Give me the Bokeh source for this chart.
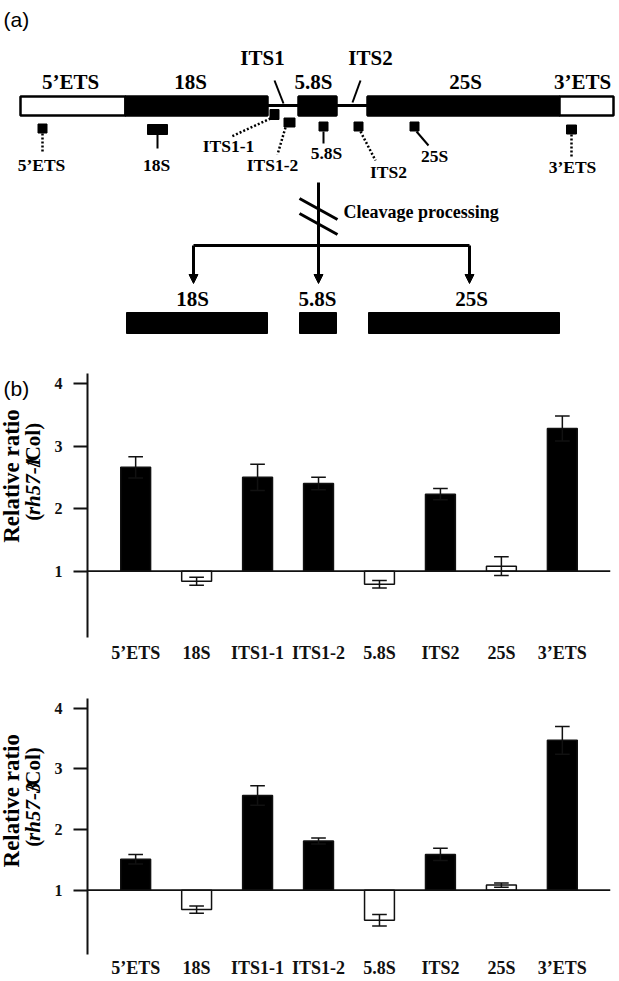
import math
from bokeh.plotting import figure
from bokeh.layouts import column, row
from bokeh.models import Range1d, FixedTicker, Span, Arrow, NormalHead
from bokeh.core.properties import value
from bokeh.embed import file_html
from bokeh.resources import INLINE

SERIF = value("Liberation Serif")
SANS = value("Liberation Sans")

# ---------------- data: schematic of the rDNA unit (a) ----------------
regions = ["5’ETS", "18S", "ITS1", "5.8S", "ITS2", "25S", "3’ETS"]
region_start = [20, 125, 267, 298, 336, 367, 559]
region_end = [125, 267, 298, 336, 367, 559, 613]
region_kind = ["open", "solid", "spacer", "solid", "spacer", "solid", "open"]
region_label_x = [70, 190, 262, 313, 370, 465, 582]
region_label_y = [81, 81, 57, 81, 57, 81, 81]

probe_names = ["5’ETS", "18S", "ITS1-1", "ITS1-2", "5.8S", "ITS2", "25S", "3’ETS"]
probe_x = [42, 157, 274, 289, 323, 358, 414, 571]
probe_y = [128, 129, 114, 122, 126, 126, 126, 129]
probe_w = [9, 20, 9, 11, 9, 9, 9, 10]
probe_h = [9, 10, 10, 9, 9, 9, 9, 9]
probe_link = ["dotted", "solid", "dotted", "dotted", "solid", "dotted", "solid", "dotted"]
link_x0 = [42, 157, 270, 285, 323, 360, 416, 571]
link_y0 = [133, 134, 118, 127, 131, 131, 131, 134]
link_x1 = [42, 157, 231, 277, 323, 375, 428, 571]
link_y1 = [153, 148, 136, 154, 143, 160, 145, 158]
probe_label_x = [41, 156, 228, 272, 326, 388, 434, 572]
probe_label_y = [164, 164, 145, 164, 152, 171, 155, 166]

products = ["18S", "5.8S", "25S"]
product_arrow_x = [193, 318, 469]

# ---------------- data: qRT-PCR ratios (b) ----------------
categories = ["5’ETS", "18S", "ITS1-1", "ITS1-2", "5.8S", "ITS2", "25S", "3’ETS"]
rh57_1_mean = [2.66, 0.84, 2.50, 2.40, 0.79, 2.23, 1.08, 3.28]
rh57_1_err = [0.17, 0.065, 0.21, 0.10, 0.06, 0.09, 0.15, 0.20]
rh57_3_mean = [1.51, 0.68, 2.56, 1.81, 0.505, 1.59, 1.085, 3.47]
rh57_3_err = [0.08, 0.06, 0.16, 0.05, 0.095, 0.10, 0.035, 0.23]
y_ticks = [1, 2, 3, 4]


def blank(w, h, xr, yr):
    p = figure(width=w, height=h, x_range=Range1d(*xr), y_range=Range1d(*yr),
               x_axis_type=None, y_axis_type=None, toolbar_location=None,
               output_backend="svg", min_border=0, outline_line_color=None)
    p.xgrid.visible = False
    p.ygrid.visible = False
    return p


# ---------------- panel (a) ----------------
pa = blank(619, 345, (0, 619), (345, 0))
pa.text(x=[3], y=[19], text=["(a)"], text_font=SANS, text_font_size="21px",
        text_align="left", text_baseline="middle")

boxes = [i for i, k in enumerate(region_kind) if k != "spacer"]
pa.quad(left=[region_start[i] for i in boxes], right=[region_end[i] for i in boxes],
        top=[96] * len(boxes), bottom=[115] * len(boxes),
        fill_color=["white" if region_kind[i] == "open" else "black" for i in boxes],
        line_color="black", line_width=2.5)
spacers = [i for i, k in enumerate(region_kind) if k == "spacer"]
pa.segment(x0=[region_start[i] for i in spacers], x1=[region_end[i] for i in spacers],
           y0=[105] * len(spacers), y1=[105] * len(spacers), line_color="black", line_width=3)
pa.text(x=region_label_x, y=region_label_y, text=regions, text_font=SERIF,
        text_font_style="bold", text_font_size="21px", text_align="center",
        text_baseline="middle")
pa.segment(x0=[274, 360], y0=[80, 80], x1=[283, 352], y1=[103, 102],
           line_color="black", line_width=2)

pa.rect(x=probe_x, y=probe_y, width=probe_w, height=probe_h, fill_color="black",
        line_color="black")
for style in ("dotted", "solid"):
    idx = [i for i, s in enumerate(probe_link) if s == style]
    pa.segment(x0=[link_x0[i] for i in idx], y0=[link_y0[i] for i in idx],
               x1=[link_x1[i] for i in idx], y1=[link_y1[i] for i in idx],
               line_color="black", line_width=2.5 if style == "dotted" else 2,
               line_dash="2 2" if style == "dotted" else "solid")
pa.text(x=probe_label_x, y=probe_label_y, text=probe_names, text_font=SERIF,
        text_font_style="bold", text_font_size="17.5px", text_align="center",
        text_baseline="middle")

pa.segment(x0=[318], y0=[182], x1=[318], y1=[245], line_color="black", line_width=3)
pa.segment(x0=[299, 299], y0=[198, 213], x1=[337, 337], y1=[219, 234],
           line_color="black", line_width=3)
pa.text(x=[343], y=[211], text=["Cleavage processing"], text_font=SERIF,
        text_font_style="bold", text_font_size="18px", text_align="left",
        text_baseline="middle")
pa.segment(x0=[product_arrow_x[0]], y0=[245], x1=[product_arrow_x[-1]], y1=[245],
           line_color="black", line_width=3)
for ax in product_arrow_x:
    pa.add_layout(Arrow(end=NormalHead(size=9, fill_color="black", line_color="black"),
                        x_start=ax, y_start=245, x_end=ax, y_end=283,
                        line_color="black", line_width=3))
pa.text(x=[192, 317, 471], y=[298] * 3, text=products, text_font=SERIF,
        text_font_style="bold", text_font_size="21px", text_align="center",
        text_baseline="middle")
prod_idx = [regions.index(n) for n in products]
pa.quad(left=[region_start[i] + 1 for i in prod_idx], right=[region_end[i] for i in prod_idx],
        top=[312] * 3, bottom=[333] * 3, fill_color="black", line_color="black")


# ---------------- panel (b) charts ----------------
def label_fig(h, y0, y1, center, strain, with_b):
    p = blank(46, h, (0, 46), (y1, y0))
    if with_b:
        p.text(x=[3], y=[363], text=["(b)"], text_font=SANS, text_font_size="21px",
               text_align="left", text_baseline="middle")
    p.text(x=[11], y=[center], text=["Relative ratio"], angle=math.pi / 2,
           text_font=SERIF, text_font_style="bold", text_font_size="23px",
           text_align="center", text_baseline="middle")
    fs = 21
    w_open = 0.333 * fs
    w_strain = 2.778 * fs + 1
    w_rest = 2.111 * fs
    start = center + (w_open + w_strain + w_rest) / 2
    p.text(x=[32], y=[start], text=["("], angle=math.pi / 2, text_font=SERIF,
           text_font_style="bold", text_font_size=f"{fs}px", text_align="left",
           text_baseline="middle")
    p.text(x=[32], y=[start - w_open], text=[strain], angle=math.pi / 2, text_font=SERIF,
           text_font_style="bold italic", text_font_size=f"{fs}px", text_align="left",
           text_baseline="middle")
    p.text(x=[32], y=[start - w_open - w_strain], text=["/Col)"], angle=math.pi / 2,
           text_font=SERIF, text_font_style="bold", text_font_size=f"{fs}px",
           text_align="left", text_baseline="middle")
    return p


def chart(h, top_border, bottom_border, means, errs, standoff):
    p = figure(width=573, height=h, x_range=Range1d(-0.79, 7.79),
               y_range=Range1d(-0.06, 4.16), toolbar_location=None, output_backend="svg",
               min_border_left=41, min_border_right=9, min_border_top=top_border,
               min_border_bottom=bottom_border, outline_line_color=None)
    p.xgrid.visible = False
    p.ygrid.visible = False
    xs = list(range(len(categories)))
    p.add_layout(Span(location=1, dimension="width", line_color="#111", line_width=1.8))
    fills = ["black" if m > 1.15 else "white" for m in means]
    p.vbar(x=xs, width=0.49, bottom=1, top=means, fill_color=fills,
           line_color="#111", line_width=1.5)
    lo = [m - e for m, e in zip(means, errs)]
    hi = [m + e for m, e in zip(means, errs)]
    p.segment(x0=xs, x1=xs, y0=lo, y1=hi, line_color="#111", line_width=1.5)
    cap = 0.12
    p.segment(x0=[x - cap for x in xs], x1=[x + cap for x in xs], y0=hi, y1=hi,
              line_color="#111", line_width=1.5)
    p.segment(x0=[x - cap for x in xs], x1=[x + cap for x in xs], y0=lo, y1=lo,
              line_color="#111", line_width=1.5)

    ya = p.yaxis[0]
    ya.ticker = FixedTicker(ticks=y_ticks)
    ya.major_tick_out = 14
    ya.major_tick_in = 0
    ya.minor_tick_line_color = None
    ya.axis_line_width = 2
    ya.axis_line_color = "#111"
    ya.major_tick_line_width = 2
    ya.major_tick_line_color = "#111"
    ya.major_label_text_font = "Liberation Serif"
    ya.major_label_text_font_style = "bold"
    ya.major_label_text_font_size = "16px"
    ya.major_label_text_color = "#111"
    ya.major_label_standoff = 11

    xa = p.xaxis[0]
    xa.ticker = FixedTicker(ticks=xs)
    xa.major_label_overrides = {i: c for i, c in enumerate(categories)}
    xa.axis_line_color = None
    xa.major_tick_out = 0
    xa.major_tick_in = 0
    xa.major_tick_line_color = None
    xa.minor_tick_line_color = None
    xa.major_label_text_font = "Liberation Serif"
    xa.major_label_text_font_style = "bold"
    xa.major_label_text_font_size = "18px"
    xa.major_label_text_color = "#111"
    xa.major_label_standoff = standoff
    return p


c1 = chart(327, 28, 35, rh57_1_mean, rh57_1_err, 5)
l1 = label_fig(327, 345, 672, 472, "rh57-1", True)
c2 = chart(308, 26, 22, rh57_3_mean, rh57_3_err, 3)
l2 = label_fig(308, 672, 980, 795, "rh57-3", False)

layout = column(pa, row(l1, c1), row(l2, c2))
open("out.html", "w").write(file_html(layout, INLINE))
